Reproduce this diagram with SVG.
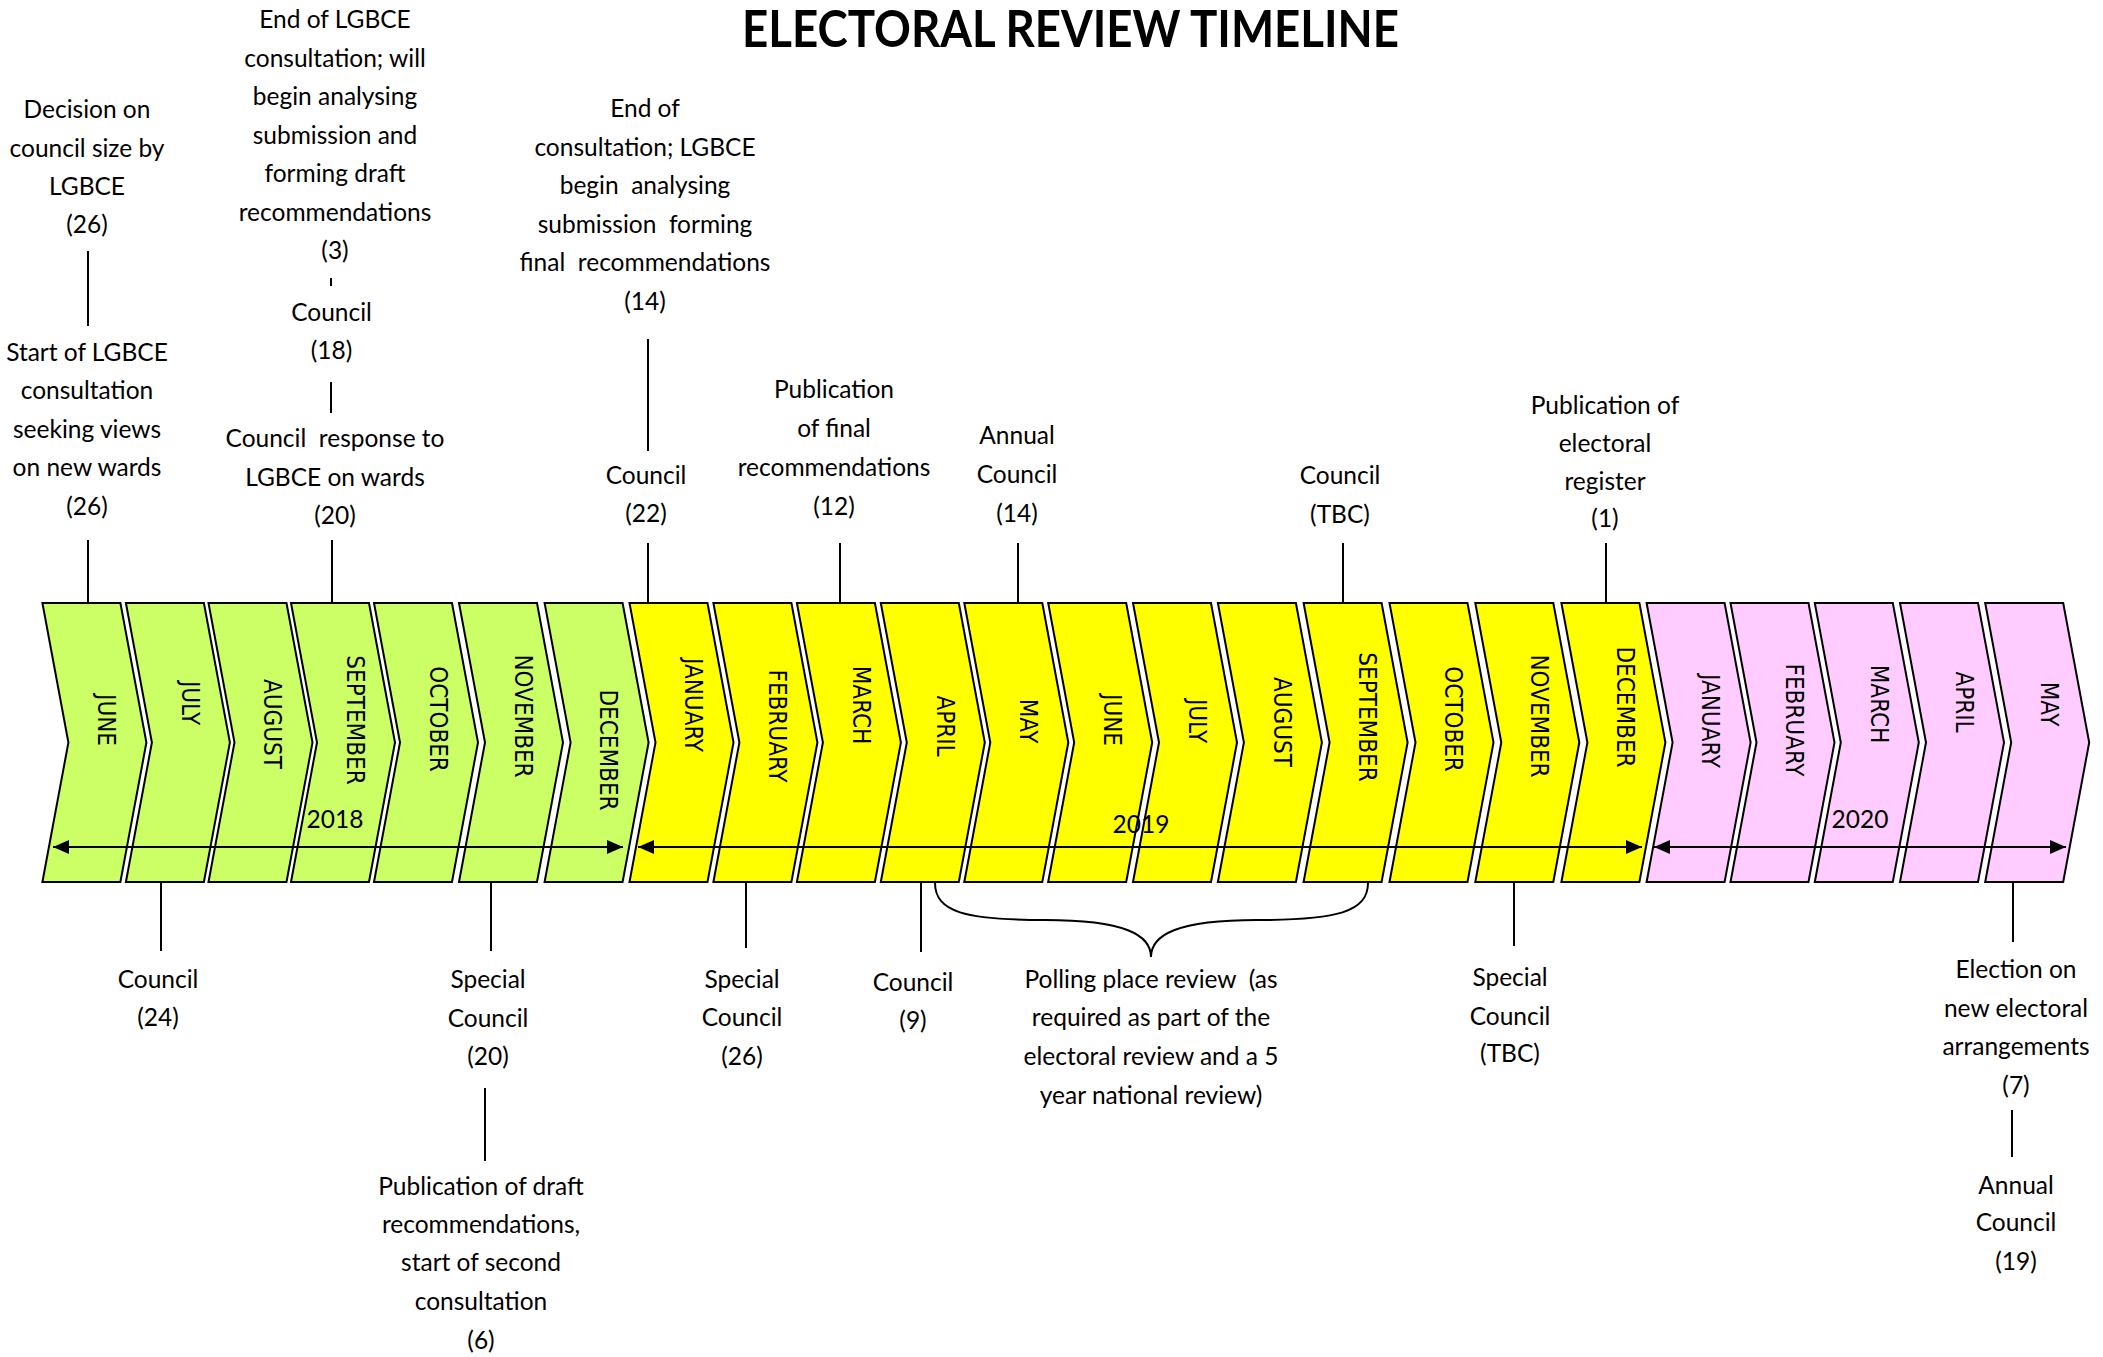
<svg xmlns="http://www.w3.org/2000/svg" xmlns:xlink="http://www.w3.org/1999/xlink" width="2103" height="1357" viewBox="0 0 2103 1357">
<style>
.g{fill:#CCFF66}.y{fill:#FFFF00}.p{fill:#FFCCFF}
.chev{stroke:#000;stroke-width:2;stroke-linejoin:miter}
.m{font-family:"DejaVu Sans Condensed","DejaVu Sans",sans-serif;font-stretch:condensed;font-size:24px;fill:#000;text-anchor:middle}
.t{font-family:Lato,"Liberation Sans",sans-serif;font-size:24.5px;fill:#000;text-anchor:middle;white-space:pre}
.title{font-family:Lato,"Liberation Sans",sans-serif;font-weight:bold;font-size:51px;fill:#000}
.c{stroke:#000;stroke-width:2;fill:none}
.arr{stroke:#000;stroke-width:2;fill:none;marker-start:url(#ah);marker-end:url(#ah)}
</style>
<defs>
<path id="chev" d="M0,0 L78,0 L104,139.5 L78,279 L0,279 L26,139.5Z"/>
<marker id="ah" markerWidth="16" markerHeight="14" refX="16" refY="7" orient="auto-start-reverse" markerUnits="userSpaceOnUse"><path d="M0,0 L16,7 L0,14Z" fill="#000"/></marker>
</defs>
<rect width="2103" height="1357" fill="#fff"/>
<text id="title" class="title" x="742" y="47" textLength="657" lengthAdjust="spacingAndGlyphs">ELECTORAL REVIEW TIMELINE</text>

<g id="months">
<g id="m1"><use href="#chev" x="42.4" y="603" class="g chev"/><text class="m" dy="0.36em" transform="translate(106.9,720) rotate(90)">JUNE</text></g>
<g id="m2"><use href="#chev" x="125.9" y="603" class="g chev"/><text class="m" dy="0.36em" transform="translate(190.4,703) rotate(90)">JULY</text></g>
<g id="m3"><use href="#chev" x="208.5" y="603" class="g chev"/><text class="m" dy="0.36em" transform="translate(273,724) rotate(90)">AUGUST</text></g>
<g id="m4"><use href="#chev" x="291" y="603" class="g chev"/><text class="m" dy="0.36em" transform="translate(355.5,720) rotate(90)">SEPTEMBER</text></g>
<g id="m5"><use href="#chev" x="374" y="603" class="g chev"/><text class="m" dy="0.36em" transform="translate(438.5,719) rotate(90)">OCTOBER</text></g>
<g id="m6"><use href="#chev" x="459" y="603" class="g chev"/><text class="m" dy="0.36em" transform="translate(523.5,716) rotate(90)">NOVEMBER</text></g>
<g id="m7"><use href="#chev" x="544.6" y="603" class="g chev"/><text class="m" dy="0.36em" transform="translate(609.1,750) rotate(90)">DECEMBER</text></g>
<g id="m8"><use href="#chev" x="629.5" y="603" class="y chev"/><text class="m" dy="0.36em" transform="translate(694,705) rotate(90)">JANUARY</text></g>
<g id="m9"><use href="#chev" x="713.4" y="603" class="y chev"/><text class="m" dy="0.36em" transform="translate(777.9,726) rotate(90)">FEBRUARY</text></g>
<g id="m10"><use href="#chev" x="796.9" y="603" class="y chev"/><text class="m" dy="0.36em" transform="translate(861.4,705) rotate(90)">MARCH</text></g>
<g id="m11"><use href="#chev" x="880.8" y="603" class="y chev"/><text class="m" dy="0.36em" transform="translate(945.3,726) rotate(90)">APRIL</text></g>
<g id="m12"><use href="#chev" x="964.3" y="603" class="y chev"/><text class="m" dy="0.36em" transform="translate(1028.8,721) rotate(90)">MAY</text></g>
<g id="m13"><use href="#chev" x="1048.2" y="603" class="y chev"/><text class="m" dy="0.36em" transform="translate(1112.7,720) rotate(90)">JUNE</text></g>
<g id="m14"><use href="#chev" x="1133" y="603" class="y chev"/><text class="m" dy="0.36em" transform="translate(1197.5,721) rotate(90)">JULY</text></g>
<g id="m15"><use href="#chev" x="1217.9" y="603" class="y chev"/><text class="m" dy="0.36em" transform="translate(1282.4,722) rotate(90)">AUGUST</text></g>
<g id="m16"><use href="#chev" x="1303.6" y="603" class="y chev"/><text class="m" dy="0.36em" transform="translate(1368.1,717) rotate(90)">SEPTEMBER</text></g>
<g id="m17"><use href="#chev" x="1389.5" y="603" class="y chev"/><text class="m" dy="0.36em" transform="translate(1454,719) rotate(90)">OCTOBER</text></g>
<g id="m18"><use href="#chev" x="1475.3" y="603" class="y chev"/><text class="m" dy="0.36em" transform="translate(1539.8,716) rotate(90)">NOVEMBER</text></g>
<g id="m19"><use href="#chev" x="1561.4" y="603" class="y chev"/><text class="m" dy="0.36em" transform="translate(1625.9,707) rotate(90)">DECEMBER</text></g>
<g id="m20"><use href="#chev" x="1646.6" y="603" class="p chev"/><text class="m" dy="0.36em" transform="translate(1711.1,721) rotate(90)">JANUARY</text></g>
<g id="m21"><use href="#chev" x="1730.5" y="603" class="p chev"/><text class="m" dy="0.36em" transform="translate(1795,720) rotate(90)">FEBRUARY</text></g>
<g id="m22"><use href="#chev" x="1814.8" y="603" class="p chev"/><text class="m" dy="0.36em" transform="translate(1879.3,704) rotate(90)">MARCH</text></g>
<g id="m23"><use href="#chev" x="1900" y="603" class="p chev"/><text class="m" dy="0.36em" transform="translate(1964.5,702) rotate(90)">APRIL</text></g>
<g id="m24"><use href="#chev" x="1985.2" y="603" class="p chev"/><text class="m" dy="0.36em" transform="translate(2049.7,704) rotate(90)">MAY</text></g>
</g>

<g id="years">
<text class="t" x="335" y="828">2018</text>
<text class="t" x="1141" y="833">2019</text>
<text class="t" x="1860" y="828">2020</text>
</g>

<g id="connectors">
<line class="arr" x1="53" y1="847" x2="623" y2="847"/>
<line class="arr" x1="638" y1="847" x2="1642" y2="847"/>
<line class="arr" x1="1654" y1="847" x2="2066" y2="847"/>
<line class="c" x1="88" y1="251" x2="88" y2="326"/>
<line class="c" x1="88" y1="540" x2="88" y2="603"/>
<line class="c" x1="331" y1="278" x2="331" y2="286"/>
<line class="c" x1="331" y1="382" x2="331" y2="413"/>
<line class="c" x1="332" y1="540" x2="332" y2="603"/>
<line class="c" x1="648" y1="339" x2="648" y2="451"/>
<line class="c" x1="648" y1="543" x2="648" y2="603"/>
<line class="c" x1="840" y1="543" x2="840" y2="603"/>
<line class="c" x1="1018" y1="543" x2="1018" y2="603"/>
<line class="c" x1="1343" y1="543" x2="1343" y2="603"/>
<line class="c" x1="1606" y1="543" x2="1606" y2="603"/>
<line class="c" x1="161" y1="882" x2="161" y2="951"/>
<line class="c" x1="491" y1="882" x2="491" y2="951"/>
<line class="c" x1="485" y1="1088" x2="485" y2="1161"/>
<line class="c" x1="746" y1="882" x2="746" y2="948"/>
<line class="c" x1="921" y1="882" x2="921" y2="952"/>
<line class="c" x1="1514" y1="882" x2="1514" y2="946"/>
<line class="c" x1="2013" y1="882" x2="2013" y2="942"/>
<line class="c" x1="2012" y1="1110" x2="2012" y2="1157"/>
<path class="c" d="M935,883 C935,912 965,920 1045,920 C1125,920 1151,935 1151,957 C1151,935 1177,920 1257,920 C1337,920 1368,912 1368,883"/>
</g>

<g id="lbl-decision"><text class="t" x="87" y="118">Decision on<tspan x="87" y="157">council size by</tspan><tspan x="87" y="195">LGBCE</tspan><tspan x="87" y="233">(26)</tspan></text></g>
<g id="lbl-start"><text class="t" x="87" y="361">Start of LGBCE<tspan x="87" y="399">consultation</tspan><tspan x="87" y="438">seeking views</tspan><tspan x="87" y="476">on new wards</tspan><tspan x="87" y="515">(26)</tspan></text></g>
<g id="lbl-end1"><text class="t" x="335" y="28">End of LGBCE<tspan x="335" y="66.5">consultation; will</tspan><tspan x="335" y="105">begin analysing</tspan><tspan x="335" y="143.5">submission and</tspan><tspan x="335" y="182">forming draft</tspan><tspan x="335" y="220.5">recommendations</tspan><tspan x="335" y="259">(3)</tspan></text></g>
<g id="lbl-council18"><text class="t" x="331.5" y="320.5">Council<tspan x="331.5" y="359">(18)</tspan></text></g>
<g id="lbl-response"><text class="t" x="335" y="446.6">Council  response to<tspan x="335" y="485.5">LGBCE on wards</tspan><tspan x="335" y="524">(20)</tspan></text></g>
<g id="lbl-end2"><text class="t" x="645" y="117">End of<tspan x="645" y="155.5">consultation; LGBCE</tspan><tspan x="645" y="194">begin  analysing</tspan><tspan x="645" y="232.5">submission  forming</tspan><tspan x="645" y="271">final  recommendations</tspan><tspan x="645" y="309.5">(14)</tspan></text></g>
<g id="lbl-council22"><text class="t" x="646" y="484">Council<tspan x="646" y="522">(22)</tspan></text></g>
<g id="lbl-pubfinal"><text class="t" x="834" y="398">Publication<tspan x="834" y="437">of final</tspan><tspan x="834" y="476">recommendations</tspan><tspan x="834" y="515">(12)</tspan></text></g>
<g id="lbl-annual14"><text class="t" x="1017" y="444">Annual<tspan x="1017" y="483">Council</tspan><tspan x="1017" y="522">(14)</tspan></text></g>
<g id="lbl-counciltbc"><text class="t" x="1340" y="484">Council<tspan x="1340" y="523">(TBC)</tspan></text></g>
<g id="lbl-register"><text class="t" x="1605" y="414">Publication of<tspan x="1605" y="452">electoral</tspan><tspan x="1605" y="490">register</tspan><tspan x="1605" y="527">(1)</tspan></text></g>

<g id="lbl-council24"><text class="t" x="158" y="988">Council<tspan x="158" y="1026">(24)</tspan></text></g>
<g id="lbl-special20"><text class="t" x="488" y="988">Special<tspan x="488" y="1027">Council</tspan><tspan x="488" y="1065">(20)</tspan></text></g>
<g id="lbl-pubdraft"><text class="t" x="481" y="1195">Publication of draft<tspan x="481" y="1233">recommendations,</tspan><tspan x="481" y="1271">start of second</tspan><tspan x="481" y="1310">consultation</tspan><tspan x="481" y="1349">(6)</tspan></text></g>
<g id="lbl-special26"><text class="t" x="742" y="988">Special<tspan x="742" y="1026">Council</tspan><tspan x="742" y="1065">(26)</tspan></text></g>
<g id="lbl-council9"><text class="t" x="913" y="991">Council<tspan x="913" y="1029">(9)</tspan></text></g>
<g id="lbl-polling"><text class="t" x="1151" y="988">Polling place review  (as<tspan x="1151" y="1026">required as part of the</tspan><tspan x="1151" y="1065">electoral review and a 5</tspan><tspan x="1151" y="1104">year national review)</tspan></text></g>
<g id="lbl-specialtbc"><text class="t" x="1510" y="986">Special<tspan x="1510" y="1025">Council</tspan><tspan x="1510" y="1062">(TBC)</tspan></text></g>
<g id="lbl-election"><text class="t" x="2016" y="978">Election on<tspan x="2016" y="1017">new electoral</tspan><tspan x="2016" y="1055">arrangements</tspan><tspan x="2016" y="1094">(7)</tspan></text></g>
<g id="lbl-annual19"><text class="t" x="2016" y="1194">Annual<tspan x="2016" y="1231">Council</tspan><tspan x="2016" y="1270">(19)</tspan></text></g>
</svg>
